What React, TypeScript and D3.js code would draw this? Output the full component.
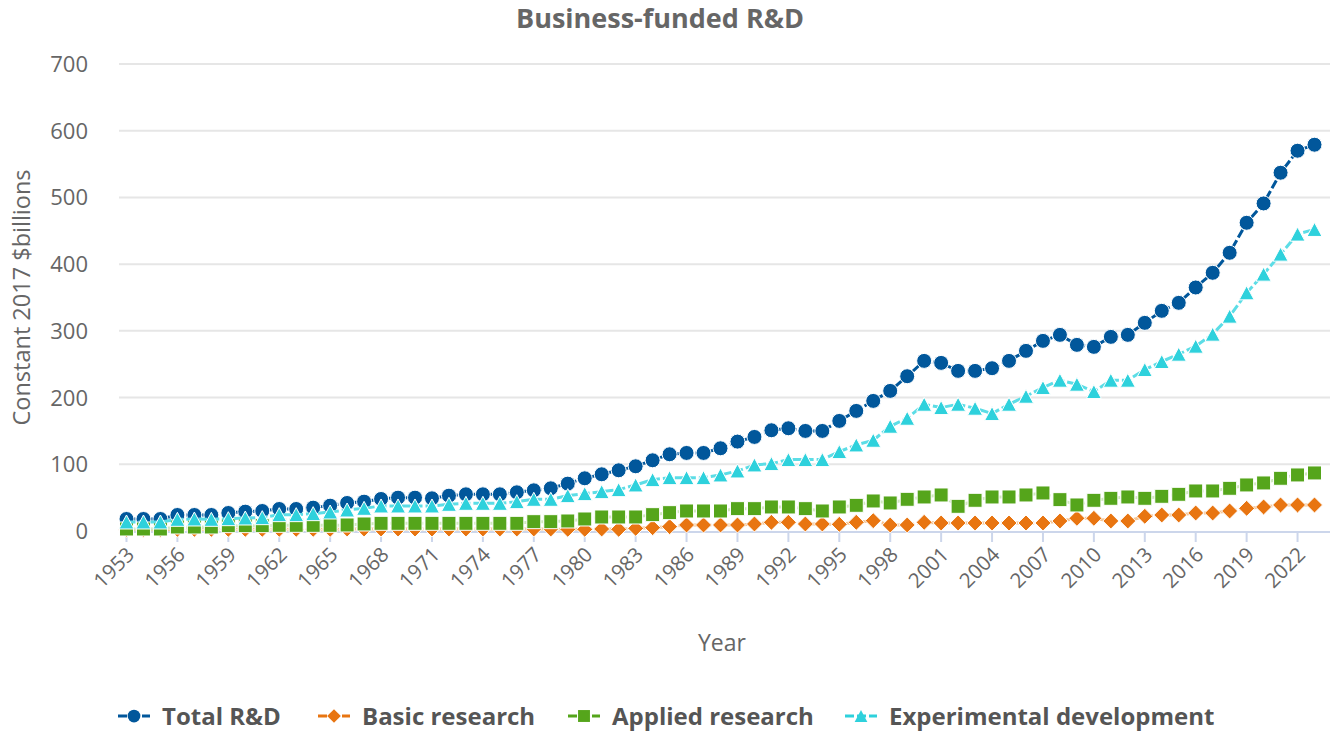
import * as d3 from 'd3';

// Business-funded R&D by type, constant 2017 $billions, 1953-2023
const years = d3.range(1953, 2024);

const totalRD = [
  18, 18, 18, 24, 24, 24, 27, 29, 30, 33, 33, 35, 38, // 1953-1965
  42, 44, 48, 50, 50, 49, 53, 55, 55, 55, 58, 61, 64, 71, // 1966-1979
  79, 85, 91, 97, 106, 115, 117, 117, 124, 134, // 1980-1989
  141, 151, 154, 150, 150, 165, 180, 195, 210, 232, // 1990-1999
  255, 252, 240, 240, 244, 255, 270, 285, 294, 279, // 2000-2009
  276, 291, 294, 312, 330, 342, 365, 387, 417, 462, // 2010-2019
  491, 537, 570, 579, // 2020-2023
];

const basicResearch = [
  2, 2, 2, 2.5, 2.5, 2.5, 2.5, 2.5, 2.5, 2.5, 2.5, 2.5, 2.5,
  3, 3, 3, 3, 3, 3, 3, 3, 3, 3, 3, 3, 3, 2.5,
  2.5, 3, 2.5, 4, 5, 6.5, 9, 9, 9, 9,
  10.5, 13, 13, 10.5, 10.5, 10, 13, 15.5, 9, 9,
  13, 12, 12, 12, 12, 12, 12, 12, 15, 19,
  19, 15, 15, 22, 24, 24, 27, 27, 30, 34,
  36, 39, 39, 39,
];

const appliedResearch = [
  3, 3, 3, 6, 6, 6, 8, 8, 8, 8.5, 8.5, 8.5, 8.5,
  9, 10.5, 11.5, 11.5, 11.5, 11.5, 11.5, 11.5, 11.5, 11.5, 11.5, 14, 14, 15,
  18, 21, 21, 21, 24.5, 27.5, 30, 30, 30, 33.5,
  33.5, 36, 36, 33.5, 30, 36, 38.5, 45, 42, 47.5,
  51, 54, 37, 46, 51, 51, 54, 57, 47, 39,
  46, 49, 51, 49, 52, 55, 60, 60, 64, 69,
  72, 79, 84, 87,
];

const experimentalDev = [
  13.5, 13.5, 13.5, 17.5, 18, 17.5, 18.5, 19.5, 20, 24.5, 24.5, 26, 28.5,
  31.5, 34, 37.5, 37.5, 37.5, 37.5, 40, 41.5, 41.5, 41.5, 44, 47.5, 47.5, 53,
  56, 59, 62, 69, 77, 80, 80, 80, 84, 90,
  99, 101, 107, 107, 107, 119, 129, 136, 157, 169,
  190, 185, 190, 184, 176, 190, 202, 215, 226, 220,
  209, 226, 226, 242, 254, 265, 277, 295, 322, 357,
  385, 415, 445, 452,
];

const yTicks = [0, 100, 200, 300, 400, 500, 600, 700];
const xTickYears = years.filter((y) => (y - 1953) % 3 === 0);

const series = [
  { name: 'Total R&D', values: totalRD, color: '#01579b', lineColor: '#01579b', symbol: 'circle' },
  { name: 'Basic research', values: basicResearch, color: '#e87511', lineColor: '#f6c592', symbol: 'diamond' },
  { name: 'Applied research', values: appliedResearch, color: '#55a51b', lineColor: '#cfe8bd', symbol: 'square' },
  { name: 'Experimental development', values: experimentalDev, color: '#2ed1dc', lineColor: '#5cdde6', symbol: 'triangle' },
];

const legendX = [118, 318, 568, 845];

const width = 1330;
const height = 733;
const plotLeft = 119;
const plotRight = 1330;
const font = '"Open Sans", sans-serif';

const x = d3.scalePoint<number>().domain(years).range([118, 1323]).padding(0.5);
const y = d3.scaleLinear().domain([0, 700]).range([531, 64]);

const markerPath = (symbol: string, s = 1) => {
  if (symbol === 'diamond') return `M0,${-8 * s}L${8 * s},0L0,${8 * s}L${-8 * s},0Z`;
  if (symbol === 'square') return `M${-7 * s},${-7 * s}H${7 * s}V${7 * s}H${-7 * s}Z`;
  if (symbol === 'triangle') return `M0,${-7 * s}L${7.5 * s},${7 * s}H${-7.5 * s}Z`;
  return d3.symbol(d3.symbolCircle, Math.PI * 7.5 * 7.5 * s * s)() as string;
};

const App = () => {
  const line = d3
    .line<number>()
    .x((_, i) => x(years[i]) as number)
    .y((d) => y(d));

  return (
    <svg
      width={width}
      height={height}
      style={{ position: 'absolute', left: 0, top: 0, background: '#fff' }}
      fontFamily={font}
    >
      <text x={660} y={28} textAnchor="middle" fontSize={27} fontWeight="bold" fill="#666666">
        Business-funded R&amp;D
      </text>

      {/* grid + y axis */}
      {yTicks.map((t) => (
        <g key={t}>
          {t > 0 && (
            <line x1={plotLeft} x2={plotRight} y1={y(t)} y2={y(t)} stroke="#e6e6e6" strokeWidth={2} />
          )}
          <text x={88} y={y(t) + 8} textAnchor="end" fontSize={22} fill="#666666">
            {t}
          </text>
        </g>
      ))}
      <text
        transform={`translate(30,${y(350)}) rotate(-90)`}
        textAnchor="middle"
        fontSize={23.5}
        fill="#666666"
      >
        Constant 2017 $billions
      </text>

      {/* x axis */}
      <line x1={plotLeft} x2={plotRight} y1={y(0) + 1} y2={y(0) + 1} stroke="#ccd6eb" strokeWidth={2} />
      {xTickYears.map((yr) => (
        <g key={yr} transform={`translate(${x(yr)},0)`}>
          <line y1={y(0) + 1} y2={y(0) + 11} stroke="#ccd6eb" strokeWidth={2} />
          <text
            transform={`translate(9,${y(0) + 25}) rotate(-45)`}
            textAnchor="end"
            fontSize={20.5}
            fill="#666666"
          >
            {yr}
          </text>
        </g>
      ))}
      <text x={722} y={651} textAnchor="middle" fontSize={23} fill="#666666">
        Year
      </text>

      {/* series */}
      {series.map((s) => (
        <g key={s.name}>
          <path d={line(s.values) as string} fill="none" stroke={s.lineColor} strokeWidth={3} strokeDasharray="9,3" />
          {s.values.map((v, i) => (
            <path
              key={i}
              transform={`translate(${x(years[i])},${y(v)})`}
              d={markerPath(s.symbol)}
              fill={s.color}
              stroke="#ffffff"
              strokeWidth={1}
            />
          ))}
        </g>
      ))}

      {/* legend */}
      {series.map((s, i) => (
        <g key={s.name} transform={`translate(${legendX[i]},716)`}>
          <line x1={0} x2={32} stroke={s.color} strokeWidth={3} strokeDasharray="9,3" />
          <path transform="translate(16,0)" d={markerPath(s.symbol, 0.85)} fill={s.color} />
          <text x={44} y={8.5} fontSize={24} fontWeight="bold" fill="#555555">
            {s.name}
          </text>
        </g>
      ))}
    </svg>
  );
};

export default App;
